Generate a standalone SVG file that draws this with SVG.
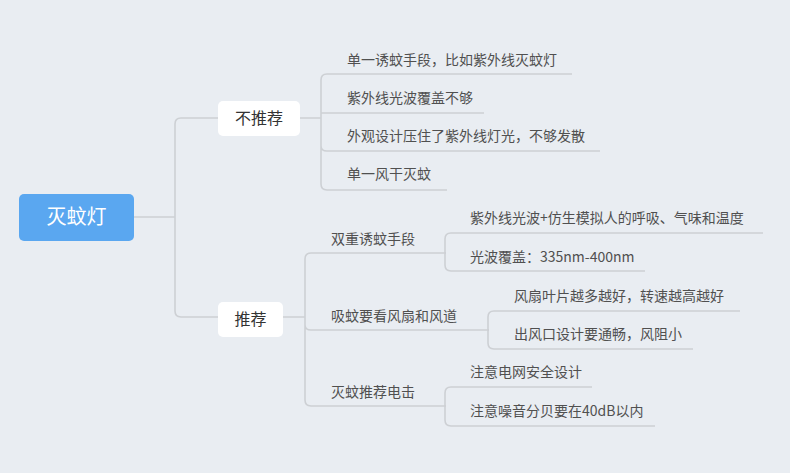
<svg xmlns="http://www.w3.org/2000/svg" width="790" height="473" viewBox="0 0 790 473">
<style>
.c{fill:none;stroke:#cdd0d4;stroke-width:1.6}
.t{font-family:"Noto Sans CJK SC",sans-serif;font-size:14px;fill:#505050}
.n{font-family:"Noto Sans CJK SC",sans-serif;font-size:16px;fill:#333;text-anchor:middle}
</style>
<rect width="790" height="473" fill="#e9edf2"/>
<g id="connectors">
<path class="c" d="M134 217H175M218 118H181Q175 118 175 124V311Q175 317 181 317H218"/>
<path class="c" d="M300 118H321M572 74H327Q321 74 321 80V184Q321 190 327 190H447M321 113H484M321 146Q321 151 327 151H600"/>
<path class="c" d="M283 317H305M446 253H311Q305 253 305 259V400Q305 406 311 406H446M305 325Q305 330 311 330H489"/>
<path class="c" d="M763 233H451Q445 233 445 239V265Q445 271 451 271H645M445 253H446"/>
<path class="c" d="M740 311H494Q488 311 488 317V343Q488 349 494 349H693M488 330H489"/>
<path class="c" d="M592 387H451Q445 387 445 393V420Q445 426 451 426H655"/>
</g>
<g id="root"><rect x="19" y="194" width="115" height="47" rx="5" fill="#5aa7f0"/><text x="76.5" y="224" font-family="Noto Sans CJK SC,sans-serif" font-size="20" fill="#fff" text-anchor="middle">灭蚊灯</text></g>
<g id="n1"><rect x="218" y="101" width="82" height="35" rx="5" fill="#fff"/><text class="n" x="259" y="124">不推荐</text></g>
<g id="n2"><rect x="218" y="302" width="65" height="35" rx="5" fill="#fff"/><text class="n" x="250.5" y="325">推荐</text></g>
<g id="leaves">
<text class="t" x="347" y="65">单一诱蚊手段，比如紫外线灭蚊灯</text>
<text class="t" x="347" y="103">紫外线光波覆盖不够</text>
<text class="t" x="347" y="141">外观设计压住了紫外线灯光，不够发散</text>
<text class="t" x="347" y="179">单一风干灭蚊</text>
<text class="t" x="331" y="244">双重诱蚊手段</text>
<text class="t" x="331" y="321">吸蚊要看风扇和风道</text>
<text class="t" x="331" y="397">灭蚊推荐电击</text>
<text class="t" x="470" y="223">紫外线光波+仿生模拟人的呼吸、气味和温度</text>
<text class="t" x="470" y="262">光波覆盖：335nm-400nm</text>
<text class="t" x="514" y="301">风扇叶片越多越好，转速越高越好</text>
<text class="t" x="514" y="339">出风口设计要通畅，风阻小</text>
<text class="t" x="470" y="377">注意电网安全设计</text>
<text class="t" x="470" y="416">注意噪音分贝要在40dB以内</text>
</g>
</svg>
